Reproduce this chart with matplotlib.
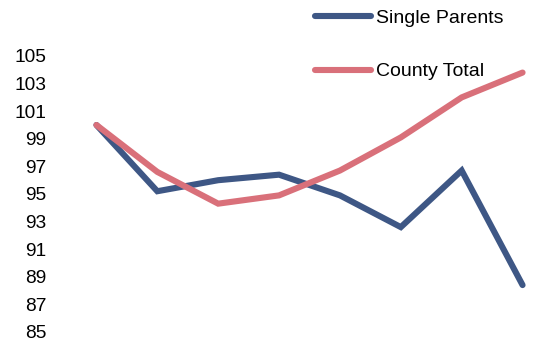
import matplotlib
matplotlib.use('Agg')
import matplotlib.pyplot as plt

years = list(range(8))
single_parents = [100, 95.2, 96.0, 96.4, 94.9, 92.6, 96.7, 88.4]
county_total = [100, 96.6, 94.3, 94.9, 96.7, 99.1, 102.0, 103.8]
yticks = list(range(85, 106, 2))

blue = '#3E5785'
pink = '#D9707A'

plt.rcParams['font.family'] = ['Liberation Sans', 'DejaVu Sans']

W, H = 551, 348
fig = plt.figure(figsize=(W / 100, H / 100), dpi=100)
# axes placed in pixel terms: x from 66 to 553, y from 56 (105) to 332 (85)
ax = fig.add_axes([66 / W, 1 - 332 / H, 487 / W, 276 / H])

ax.plot(years, single_parents, color=blue, lw=4.4, label='Single Parents',
        solid_capstyle='round', solid_joinstyle='miter')
ax.plot(years, county_total, color=pink, lw=4.4, label='County Total',
        solid_capstyle='round', solid_joinstyle='miter')

ax.set_xlim(-0.5, 7.5)
ax.set_ylim(85, 105)
ax.set_yticks(yticks)
ax.set_xticks([])
ax.tick_params(axis='y', length=0, pad=14, labelsize=13.8)
for s in ax.spines.values():
    s.set_visible(False)
for lbl in ax.get_yticklabels():
    lbl.set_horizontalalignment('right')

leg = ax.legend(loc='upper left', bbox_to_anchor=(315 / W, 1 - 9 / H),
                bbox_transform=fig.transFigure, frameon=False,
                fontsize=14, handlelength=2.9, handletextpad=0.25,
                labelspacing=1.86, borderpad=0, borderaxespad=0)

fig.savefig('out.png', dpi=100)
